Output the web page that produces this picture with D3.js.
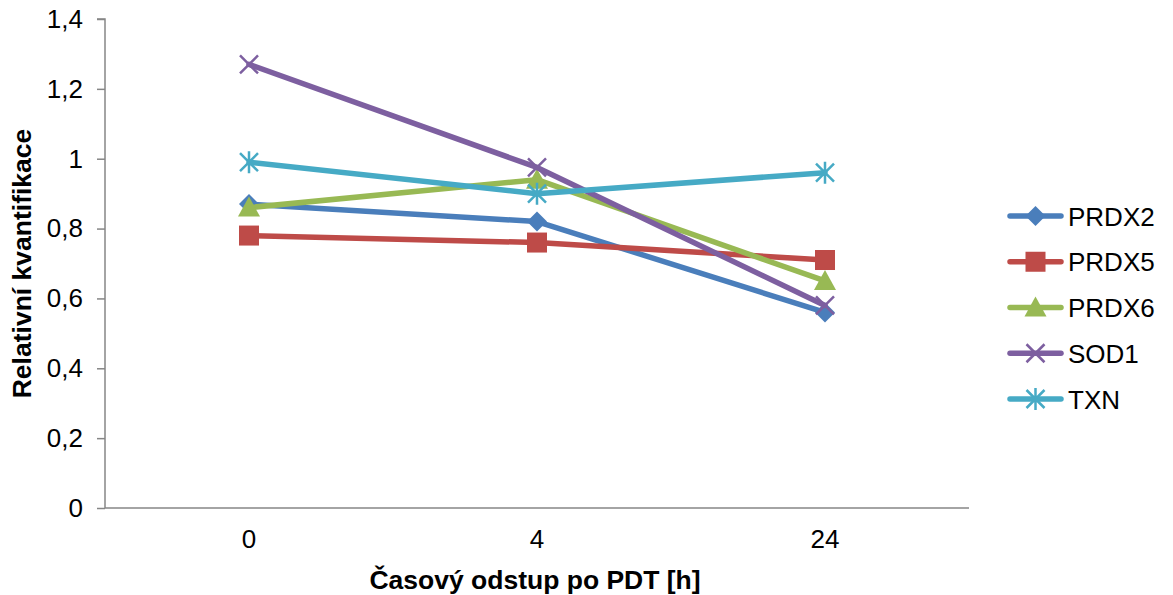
<!DOCTYPE html>
<html>
<head>
<meta charset="utf-8">
<script src="https://cdn.jsdelivr.net/npm/d3@7"></script>
<style>
  html, body { margin: 0; padding: 0; background: #fff; }
  svg { display: block; font-family: "Liberation Sans", Arial, sans-serif; }
</style>
</head>
<body>
<svg id="chart" width="1173" height="595"></svg>
<script>
// Sampling times after PDT (hours)
const categories = ["0", "4", "24"];

// Relative quantification per protein
const prdx2 = [0.87, 0.82, 0.56];
const prdx5 = [0.78, 0.76, 0.71];
const prdx6 = [0.86, 0.94, 0.65];
const sod1  = [1.27, 0.975, 0.58];
const txn   = [0.99, 0.90, 0.96];

const seriesNames = ["PRDX2", "PRDX5", "PRDX6", "SOD1", "TXN"];
const seriesValues = [prdx2, prdx5, prdx6, sod1, txn];

const yTicks = [0, 0.2, 0.4, 0.6, 0.8, 1.0, 1.2, 1.4];
const yTickLabels = ["0", "0,2", "0,4", "0,6", "0,8", "1", "1,2", "1,4"];

const colors = ["#4A7EBB", "#BE4B48", "#98B954", "#7D5FA0", "#46AAC5"];
const markers = ["diamond", "square", "triangle", "cross", "star"];

const svg = d3.select("#chart");
const plot = { left: 105, right: 969, top: 19, bottom: 508 };

const x = d3.scaleBand().domain(categories).range([plot.left, plot.right]).padding(0);
const y = d3.scaleLinear().domain([0, 1.4]).range([plot.bottom, plot.top]);

const axisColor = "#868686";
const labelSize = 26;
const titleSize = 26.5;

// Y axis
const yAxis = svg.append("g")
  .attr("transform", `translate(${plot.left},0)`)
  .call(d3.axisLeft(y).tickValues(yTicks).tickSize(8).tickPadding(14)
    .tickFormat((d, i) => yTickLabels[i]));
yAxis.select(".domain").attr("stroke", axisColor).attr("stroke-width", 1.5)
  .attr("d", `M-8,${plot.top}H0V${plot.bottom}`);
yAxis.selectAll(".tick line").attr("stroke", axisColor).attr("stroke-width", 1.5);
yAxis.selectAll(".tick text").attr("fill", "#000").attr("font-size", labelSize)
  .attr("font-family", "Liberation Sans, Arial, sans-serif");

// X axis
const xAxis = svg.append("g")
  .attr("transform", `translate(0,${plot.bottom})`)
  .call(d3.axisBottom(x).tickSize(0).tickPadding(22));
xAxis.select(".domain").attr("stroke", axisColor).attr("stroke-width", 1.5)
  .attr("d", `M${plot.left},0H${plot.right}`);
xAxis.selectAll(".tick text").attr("fill", "#000").attr("font-size", labelSize)
  .attr("font-family", "Liberation Sans, Arial, sans-serif");

// Axis titles
svg.append("text")
  .attr("x", (plot.left + plot.right) / 2 - 2).attr("y", 589)
  .attr("text-anchor", "middle").attr("font-size", titleSize).attr("font-weight", "bold")
  .text("Časový odstup po PDT [h]");

svg.append("text")
  .attr("transform", `translate(31,${(plot.top + plot.bottom) / 2 + 0}) rotate(-90)`)
  .attr("text-anchor", "middle").attr("font-size", titleSize).attr("font-weight", "bold")
  .text("Relativní kvantifikace");

// Marker shapes centred at origin
function drawMarker(g, type, color) {
  if (type === "diamond") {
    g.append("path").attr("d", "M0,-10L10,0L0,10L-10,0Z").attr("fill", color);
  } else if (type === "square") {
    g.append("rect").attr("x", -10).attr("y", -10).attr("width", 20).attr("height", 20).attr("fill", color);
  } else if (type === "triangle") {
    g.append("path").attr("d", "M0,-11L11,9L-11,9Z").attr("fill", color);
  } else if (type === "cross") {
    g.append("path").attr("d", "M-9,-9L9,9M9,-9L-9,9")
      .attr("stroke", color).attr("stroke-width", 2.5).attr("fill", "none");
  } else if (type === "star") {
    g.append("path").attr("d", "M-9,-9L9,9M9,-9L-9,9M0,-11V11")
      .attr("stroke", color).attr("stroke-width", 2.5).attr("fill", "none");
  }
}

const line = d3.line()
  .x((d, i) => x(categories[i]) + x.bandwidth() / 2)
  .y(d => y(d));

seriesValues.forEach((vals, s) => {
  const g = svg.append("g");
  g.append("path").datum(vals).attr("d", line)
    .attr("fill", "none").attr("stroke", colors[s]).attr("stroke-width", 5.5)
    .attr("stroke-linejoin", "round").attr("stroke-linecap", "round");
  vals.forEach((v, i) => {
    const m = g.append("g")
      .attr("transform", `translate(${x(categories[i]) + x.bandwidth() / 2},${y(v)})`);
    drawMarker(m, markers[s], colors[s]);
  });
});

// Legend
const legend = svg.append("g");
seriesNames.forEach((name, s) => {
  const ly = 216 + s * 45.75;
  const item = legend.append("g");
  item.append("line").attr("x1", 1010).attr("x2", 1061).attr("y1", ly).attr("y2", ly)
    .attr("stroke", colors[s]).attr("stroke-width", 5.5).attr("stroke-linecap", "round");
  const m = item.append("g").attr("transform", `translate(1035.5,${ly})`);
  drawMarker(m, markers[s], colors[s]);
  item.append("text").attr("x", 1068).attr("y", ly + 9.5)
    .attr("font-size", labelSize).text(name);
});
</script>
</body>
</html>
